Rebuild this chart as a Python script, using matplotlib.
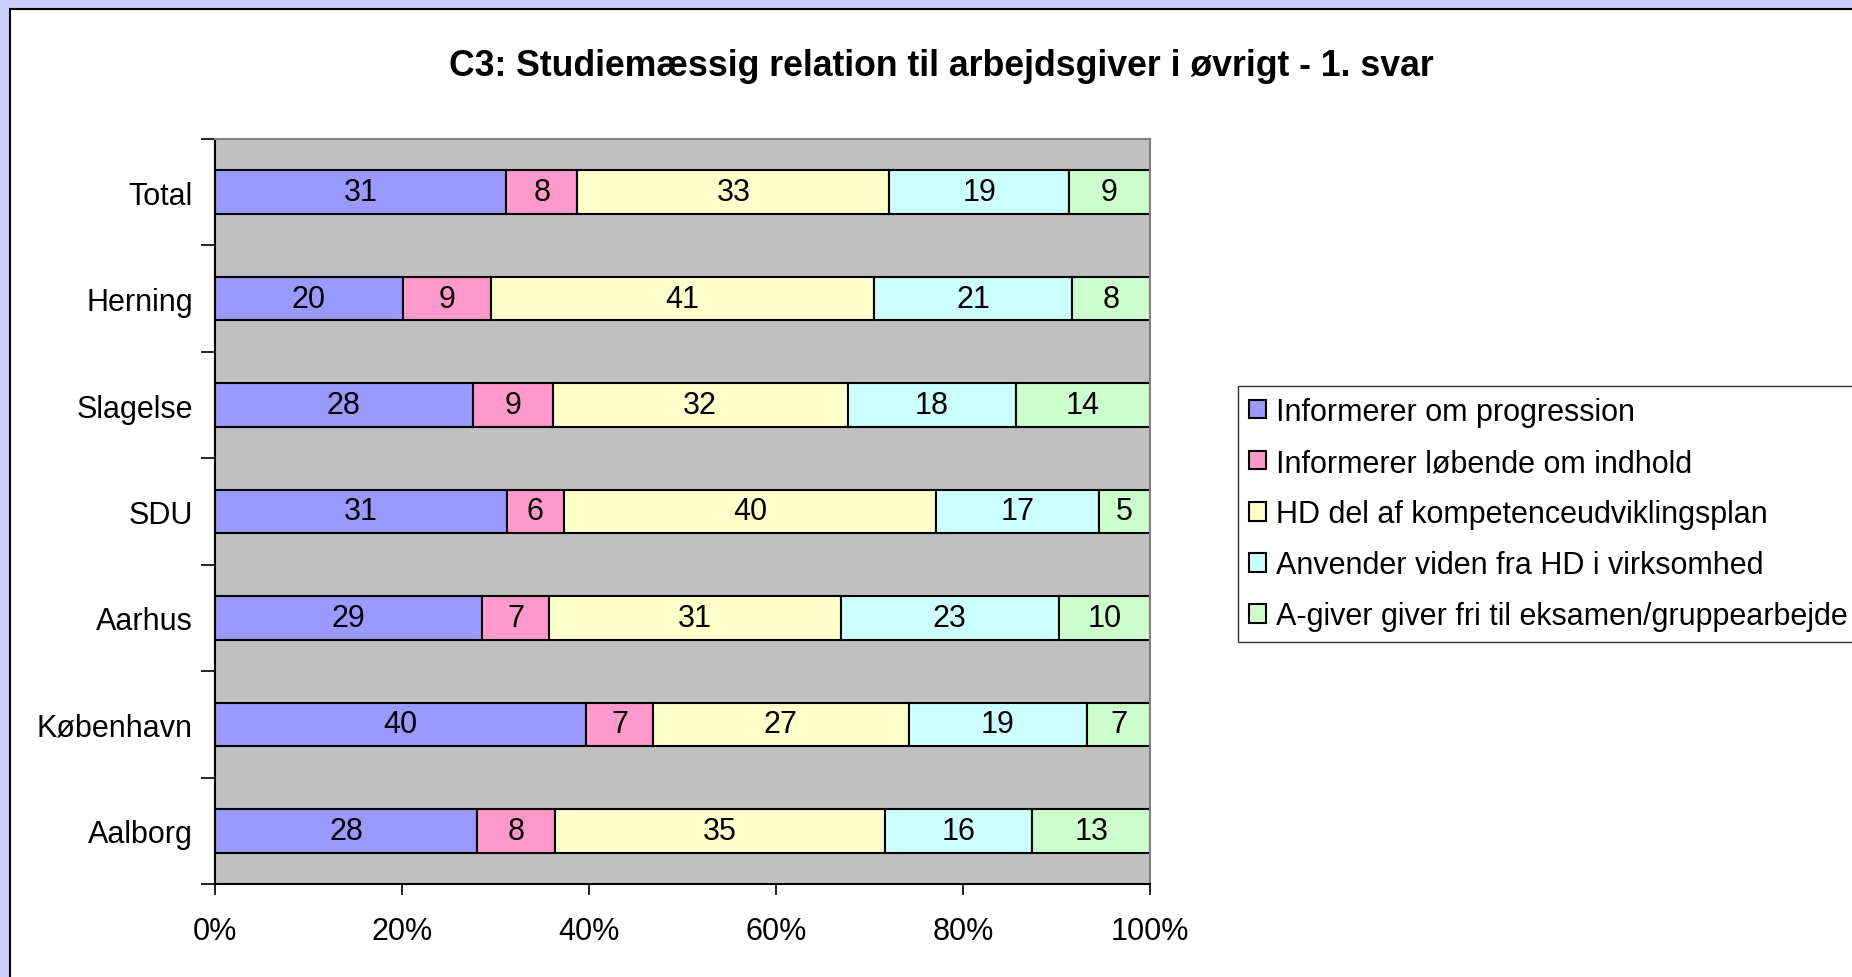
import numpy as np
import matplotlib
matplotlib.use("Agg")
import matplotlib.pyplot as plt
from matplotlib.patches import Rectangle
from matplotlib.ticker import PercentFormatter, FixedLocator

plt.rcParams['font.family'] = ['Liberation Sans', 'DejaVu Sans']

# data (percent), top to bottom as shown
places = ['Total', 'Herning', 'Slagelse', 'SDU', 'Aarhus', 'København', 'Aalborg']
progression = [31.2, 20.1, 27.6, 31.2, 28.6, 39.7, 28.1]
loebende = [7.6, 9.4, 8.6, 6.0, 7.1, 7.1, 8.3]
kompetence = [33.4, 41.0, 31.6, 39.8, 31.2, 27.4, 35.4]
anvender = [19.2, 21.2, 18.0, 17.4, 23.4, 19.1, 15.8]
fri = [8.7, 8.3, 14.4, 5.4, 9.7, 6.7, 12.6]

series_names = ['Informerer om progression', 'Informerer løbende om indhold',
                'HD del af kompetenceudviklingsplan', 'Anvender viden fra HD i virksomhed',
                'A-giver giver fri til eksamen/gruppearbejde']
colors = ['#9999FF', '#FF99CC', '#FFFFCC', '#CCFFFF', '#CCFFCC']

series = np.array([progression, loebende, kompetence, anvender, fri], dtype=float)
shares = series / series.sum(axis=0)   # 100% stacked like Excel

fig = plt.figure(figsize=(18.52, 9.78), dpi=100)
fig.patch.set_facecolor('#CCCCFF')
# white chart area with black border
fig.add_artist(Rectangle((10 / 1852, -0.1), 1.2, 1 - 10 / 978 + 0.1,
                         transform=fig.transFigure, facecolor='white',
                         edgecolor='black', linewidth=1.5, zorder=0))

ax = fig.add_axes([215 / 1852, 1 - 885 / 978, 935 / 1852, 745 / 978])
ax.set_facecolor('#C0C0C0')

y = np.arange(len(places))
left = np.zeros(len(places))
for i in range(len(series)):
    bars = ax.barh(y, shares[i], left=left, height=0.41, color=colors[i],
                   edgecolor='black', linewidth=1.5, label=series_names[i], zorder=2)
    ax.bar_label(bars, labels=[f'{v:.0f}' for v in series[i]], label_type='center',
                 fontsize=22)
    left += shares[i]

ax.set_xlim(0, 1)
ax.set_ylim(len(places) - 0.5, -0.5)
ax.set_yticks(y)
ax.set_yticklabels(places, fontsize=22)
ax.yaxis.set_minor_locator(FixedLocator(np.arange(-0.5, len(places), 1)))
ax.tick_params(axis='y', which='major', length=0, pad=16)
ax.tick_params(axis='y', which='minor', length=10, width=1.2, color='black')

ax.set_xticks(np.linspace(0, 1, 6))
ax.xaxis.set_major_formatter(PercentFormatter(1.0, decimals=0))
ax.tick_params(axis='x', length=8, width=1.2, labelsize=22, pad=15.3)

for side in ['left', 'bottom']:
    ax.spines[side].set_color('black')
    ax.spines[side].set_linewidth(1.5)
for side in ['top', 'right']:
    ax.spines[side].set_color('#808080')
    ax.spines[side].set_linewidth(1.5)

fig.text(941 / 1852, 1 - 66 / 978, 'C3: Studiemæssig relation til arbejdsgiver i øvrigt - 1. svar',
         ha='center', va='center', fontsize=25.7, fontweight='bold')

leg = fig.legend(loc='upper left', bbox_to_anchor=(1238 / 1852, 1 - 387 / 978),
                 bbox_transform=fig.transFigure, fontsize=22, frameon=True,
                 fancybox=False, borderaxespad=0, handlelength=0.55, handleheight=0.55,
                 handletextpad=0.35, labelspacing=0.69, borderpad=0.36)
leg.get_frame().set_edgecolor('black')
leg.get_frame().set_linewidth(1.0)
leg.get_frame().set_facecolor('white')

fig.savefig('out.png', dpi=100, facecolor=fig.get_facecolor())
